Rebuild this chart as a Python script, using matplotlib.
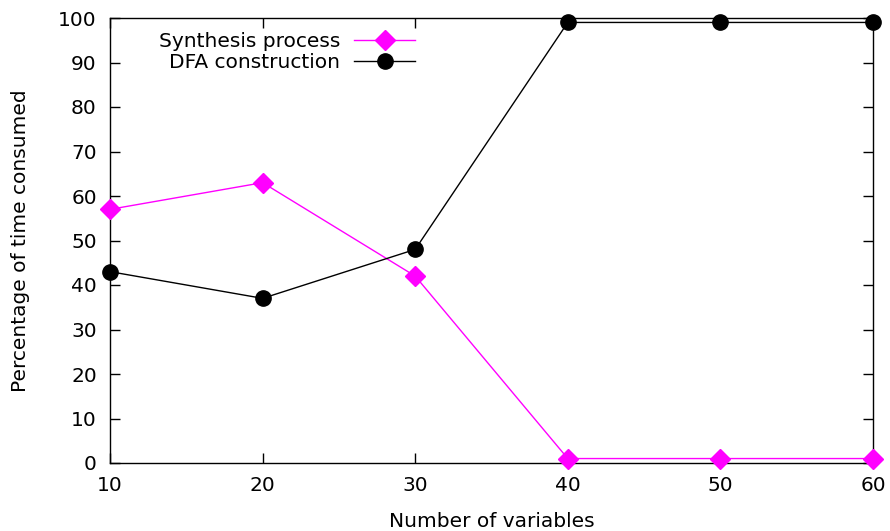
import matplotlib
matplotlib.use("Agg")
import matplotlib.pyplot as plt

# data
n_vars = [10, 20, 30, 40, 50, 60]
synthesis = [57, 63, 42, 1, 1, 1]
dfa = [43, 37, 48, 99, 99, 99]

plt.rcParams['font.family'] = ['DejaVu Sans']
plt.rcParams['font.size'] = 14.5

fig = plt.figure(figsize=(8.9, 5.31), dpi=100)
ax = fig.add_axes([110 / 890, 68 / 531, 763 / 890, 445 / 531])

ax.plot(n_vars, synthesis, '-', color='#ff00ff', lw=1, marker='D', ms=10,
        label='Synthesis process', clip_on=False, zorder=3)
ax.plot(n_vars, dfa, '-', color='black', lw=1, marker='o', ms=11,
        label='DFA construction', clip_on=False, zorder=3)

ax.set_xlim(10, 60)
ax.set_ylim(0, 100)
ax.set_xticks(n_vars)
ax.set_yticks(range(0, 101, 10))
ax.tick_params(direction='in', top=True, right=True, length=7, width=1, pad=9.5)
for s in ax.spines.values():
    s.set_linewidth(1)

ax.set_xlabel('Number of variables', labelpad=12)
ax.set_ylabel('Percentage of time consumed', labelpad=20)

ax.legend(loc='upper right', bbox_to_anchor=(0.418, 1.0), frameon=False,
          markerfirst=False, handlelength=3.0, labelspacing=0.1,
          borderaxespad=0.3, handletextpad=0.7)

fig.savefig('out.png', dpi=100)
